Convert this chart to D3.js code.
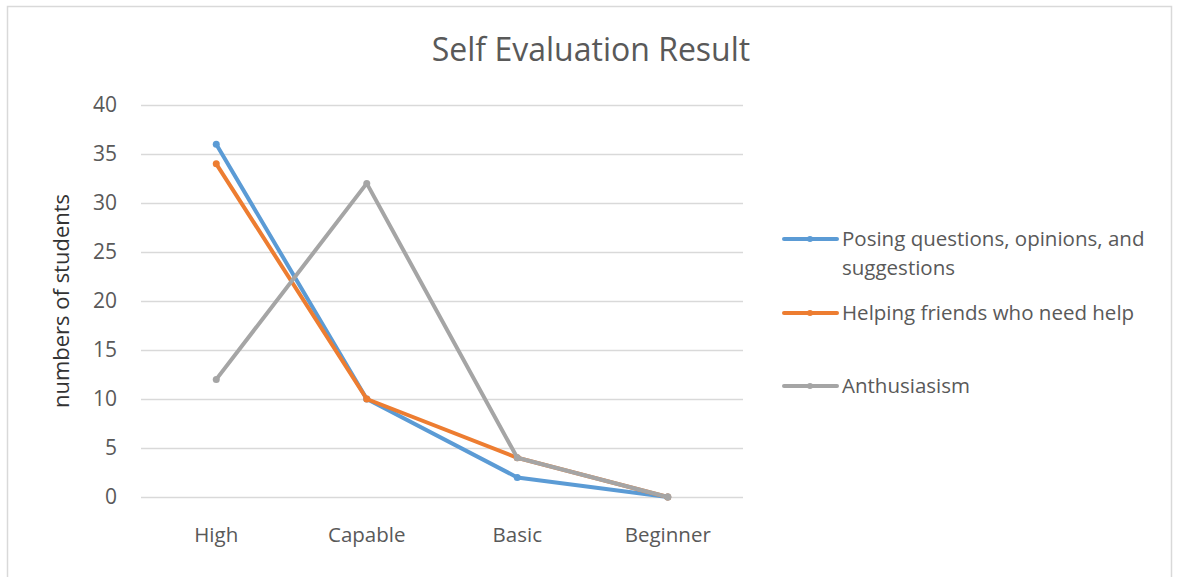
<!DOCTYPE html>
<html><head><meta charset="utf-8">
<script src="https://cdn.jsdelivr.net/npm/d3@7"></script>
<style>body{margin:0;background:#fff}svg{display:block}</style>
</head><body><svg id="c" width="1179" height="577"></svg>
<script>
const categories = ["High","Capable","Basic","Beginner"];
const seriesNames = ["Posing questions, opinions, and suggestions","Helping friends who need help","Anthusiasism"];
const posing = [36,10,2,0];
const helping = [34,10,4,0];
const enthus = [12,32,4,0];
const yTicks = [0,5,10,15,20,25,30,35,40];
const colors = ["#5B9BD5","#ED7D31","#A5A5A5"];
const series = [posing, helping, enthus];

const svg = d3.select("#c");
const font = "'Open Sans', 'Liberation Sans', sans-serif";
const txt = "#595959";

svg.append("rect").attr("x",7.5).attr("y",6.5).attr("width",1164).attr("height",580)
  .attr("fill","#fff").attr("stroke","#D9D9D9").attr("stroke-width",1.5);

const x = d3.scaleBand().domain(categories).range([141,743]);
const y = d3.scaleLinear().domain([0,40]).range([497,105]);

const yAxis = d3.axisLeft(y).tickValues(yTicks).tickSize(-(743-141)).tickPadding(24);
const gy = svg.append("g").attr("transform","translate(141,0)").call(yAxis);
gy.select(".domain").remove();
gy.selectAll(".tick line").attr("stroke","#D9D9D9").attr("stroke-width",1.5);
gy.selectAll(".tick text").attr("fill",txt).style("font-family",font).style("font-size","21px");

const xAxis = d3.axisBottom(x).tickSize(0).tickPadding(30);
const gx = svg.append("g").attr("transform","translate(0,497)").call(xAxis);
gx.select(".domain").remove();
gx.selectAll(".tick text").attr("fill",txt).style("font-family",font).style("font-size","20.5px");

const cx = d => x(d) + x.bandwidth()/2;
const line = d3.line().x((v,i)=>cx(categories[i])).y(v=>y(v));
series.forEach((s,k)=>{
  svg.append("path").datum(s).attr("d",line).attr("fill","none")
    .attr("stroke",colors[k]).attr("stroke-width",4).attr("stroke-linejoin","round").attr("stroke-linecap","round");
  svg.selectAll(null).data(s).enter().append("circle")
    .attr("cx",(v,i)=>cx(categories[i])).attr("cy",v=>y(v)).attr("r",3.5).attr("fill",colors[k]);
});

svg.append("text").attr("x",591).attr("y",61).attr("text-anchor","middle")
  .attr("fill",txt).style("font-family",font).style("font-size","32px").text("Self Evaluation Result");

svg.append("text").attr("transform","translate(69,301) rotate(-90)").attr("text-anchor","middle")
  .attr("fill","#333").style("font-family",font).style("font-size","22px").text("numbers of students");

// legend
const legY = [239, 313, 386];
const legLines = [["Posing questions, opinions, and","suggestions"],["Helping friends who need help"],["Anthusiasism"]];
legY.forEach((ly,k)=>{
  svg.append("line").attr("x1",784).attr("x2",837).attr("y1",ly).attr("y2",ly)
    .attr("stroke",colors[k]).attr("stroke-width",4).attr("stroke-linecap","round");
  svg.append("circle").attr("cx",810).attr("cy",ly).attr("r",3).attr("fill",colors[k]);
  const t = svg.append("text").attr("x",842).attr("y",ly+7).attr("fill",txt)
    .style("font-family",font).style("font-size","20.5px");
  legLines[k].forEach((l,j)=>t.append("tspan").attr("x",842).attr("dy",j?29:0).text(l));
});
</script></body></html>
